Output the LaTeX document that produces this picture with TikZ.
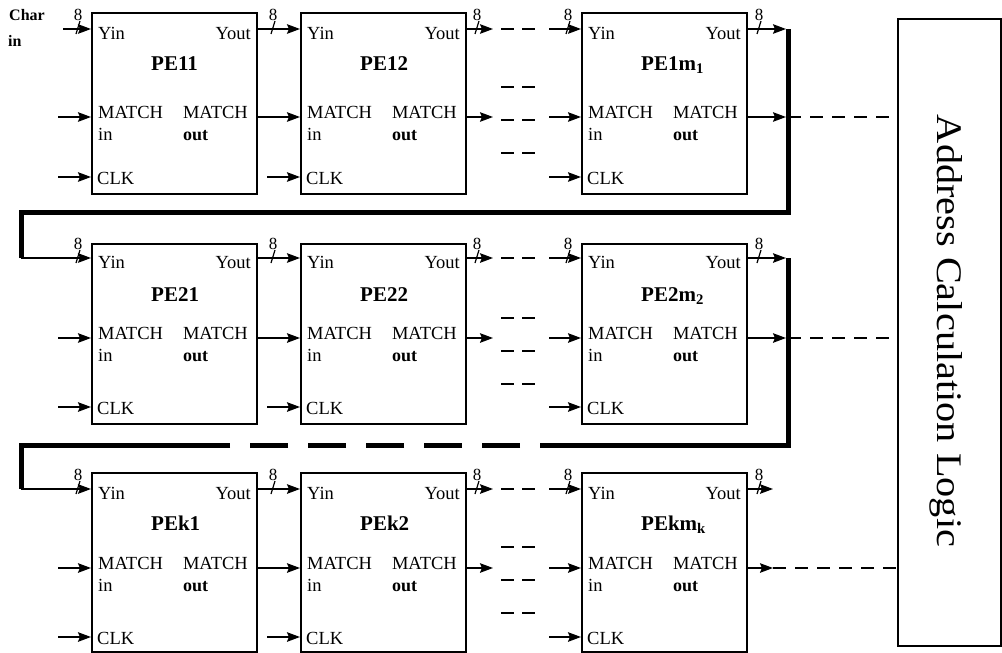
\documentclass[tikz,border=0pt]{standalone}
\usepackage{fontspec}
\setmainfont{Liberation Serif}
\usetikzlibrary{arrows.meta}
\tikzset{
  pebox/.style={draw, line width=1.8pt, minimum width=165pt, inner sep=0pt, anchor=north west},
  lbl/.style={font=\fontsize{18.5}{21}\selectfont, inner sep=0pt},
  pelbl/.style={font=\bfseries\fontsize{21}{24}\selectfont, inner sep=0pt, anchor=base west},
  arr/.style={line width=1.7pt, -{Stealth[length=13pt,width=9.5pt,inset=2pt]}},
  dsh/.style={line width=1.8pt, dash pattern=on 13pt off 8pt},
  longdsh/.style={line width=1.6pt, dash pattern=on 13pt off 9pt},
  bus/.style={line width=5pt},
  busmark/.pic={
    \draw[line width=1.2pt] (2,-8) -- (-2,5);
    \node[font=\fontsize{17}{17}\selectfont, inner sep=0pt] (-n) at (0,-14) {8};
  }
}
\begin{document}
\begin{tikzpicture}[x=1pt,y=-1pt]
\fill[white] (0,0) rectangle (1002,653);
\useasboundingbox (0,0) rectangle (1002,653);

% Address calculation logic
\node[draw, line width=1.8pt, minimum width=103pt, minimum height=627pt, anchor=north west, inner sep=0pt] (acl) at (897,18) {};
\node[rotate=-90, anchor=base, font=\fontsize{36}{40}\selectfont, inner sep=0pt] (acltxt) at (937,331) {\scalebox{1.12}[1]{Address Calculation Logic}};

% Char in
\node[font=\bfseries\fontsize{16}{16}\selectfont, anchor=base west, inner sep=0pt] (char) at (9,20) {Char};
\node[font=\bfseries\fontsize{16}{16}\selectfont, anchor=base west, inner sep=0pt] (charin) at (8,46) {in};

\foreach \r/\k/\t/\h/\yi/\ym/\yc in {1/1/12/181/29/117/177, 2/2/243/180/258/338/407, 3/k/472/179/489/568/637} {
  \foreach \c/\L/\R/\s in {1/91/256/1, 2/300/465/2, 3/581/746/{m\textsubscript{\k}}} {
    \node[pebox, minimum height=\h pt] (pe\r\c) at (\L,\t) {};
    \coordinate (yin\r\c) at (\L,\yi);
    \coordinate (yout\r\c) at (\R,\yi);
    \coordinate (mi\r\c) at (\L,\ym);
    \coordinate (mo\r\c) at (\R,\ym);
    \coordinate (ck\r\c) at (\L,\yc);
    \node[lbl, anchor=base west] (tyin\r\c) at (\L+7,\yi+10) {Yin};
    \node[lbl, anchor=base east] (tyout\r\c) at (\R-5,\yi+10) {Yout};
    \node[lbl, anchor=base west] (tmi\r\c) at (\L+7,\ym+1) {MATCH};
    \node[lbl, anchor=base west, yshift=-22pt] (tin\r\c) at (tmi\r\c.base west) {in};
    \node[lbl, anchor=base east] (tmo\r\c) at (\R-8,\ym+1) {MATCH};
    \node[lbl, anchor=base west, yshift=-22pt, font=\bfseries\fontsize{18}{21}\selectfont] (tout\r\c) at (tmo\r\c.base west) {out};
    \node[lbl, anchor=base west] (tck\r\c) at (\L+6,\yc+7) {CLK};
    \node[pelbl] (lab\r\c) at (\L+60,\t+58) {PE\k\s};
  }
  % column 1 inputs
  \coordinate (ms\r) at (58,\ym);
  \coordinate (cs\r) at (58,\yc);
  \draw[arr] (ms\r) -- (mi\r1);
  \draw[arr] (cs\r) -- (ck\r1);
  \pic (bma\r) at (78,\yi) {busmark};
  % column 1 -> column 2
  \draw[arr] (yout\r1) -- (yin\r2);
  \draw[arr] (mo\r1) -- (mi\r2);
  \coordinate (cs2\r) at (267,\yc);
  \draw[arr] (cs2\r) -- (ck\r2);
  \pic (bmb\r) at (273,\yi) {busmark};
  % column 2 -> column 3
  \coordinate (ya\r) at (493,\yi);
  \coordinate (yb\r) at (549,\yi);
  \coordinate (ma\r) at (493,\ym);
  \coordinate (mb\r) at (549,\ym);
  \coordinate (cb\r) at (549,\yc);
  \draw[arr] (yout\r2) -- (ya\r);
  \draw[arr] (yb\r) -- (yin\r3);
  \draw[arr] (mo\r2) -- (ma\r);
  \draw[arr] (mb\r) -- (mi\r3);
  \draw[arr] (cb\r) -- (ck\r3);
  \pic (bmc\r) at (477,\yi) {busmark};
  \pic (bmd\r) at (568,\yi) {busmark};
  \coordinate (da\r) at (501,\yi);
  \coordinate (db\r) at (537,\yi);
  \draw[dsh] (da\r) -- (db\r);
  \foreach \o/\n in {75/1,108/2,141/3} {
    \coordinate (dc\r\n) at (501,\t+\o);
    \coordinate (dd\r\n) at (537,\t+\o);
    \draw[dsh] (dc\r\n) -- (dd\r\n);
  }
  \pic (bme\r) at (759,\yi) {busmark};
  \coordinate (acl\r) at (897,\ym);
}

% column 1 Yin inputs
\coordinate (charstart) at (63,29);
\draw[arr] (charstart) -- (yin11);

% row 1 outputs
\coordinate (bus1a) at (788,29);
\coordinate (bus1m) at (788,117);
\draw[arr, shorten >=2pt] (yout13) -- (bus1a);
\draw[arr, shorten >=2pt] (mo13) -- (bus1m);
\draw[longdsh] (bus1m) -- (acl1);
\coordinate (bus1b) at (788,212);
\coordinate (bus1c) at (21,212);
\coordinate (bus1d) at (21,258);
\draw[bus] (bus1a) -- (bus1b) -- (bus1c) -- (bus1d);
\draw[arr] (bus1d) -- (yin21);

% row 2 outputs
\coordinate (bus2a) at (788,258);
\coordinate (bus2m) at (788,338);
\draw[arr, shorten >=2pt] (yout23) -- (bus2a);
\draw[arr, shorten >=2pt] (mo23) -- (bus2m);
\draw[longdsh] (bus2m) -- (acl2);
\coordinate (bus2b) at (788,445);
\coordinate (bus2c) at (21,445);
\coordinate (bus2d) at (21,489);
\draw[bus, dash pattern=on 435pt off 20pt on 38pt off 20pt on 38pt off 20pt on 38pt off 20pt on 38pt off 20pt on 38pt off 20pt on 1000pt]
  (bus2a) -- (bus2b) -- (bus2c) -- (bus2d);
\draw[arr] (bus2d) -- (yin31);

% row 3 outputs
\coordinate (out3a) at (773,489);
\coordinate (out3m) at (773,568);
\draw[arr] (yout33) -- (out3a);
\draw[arr] (mo33) -- (out3m);
\draw[longdsh] (out3m) -- (acl3);
\end{tikzpicture}
\end{document}
